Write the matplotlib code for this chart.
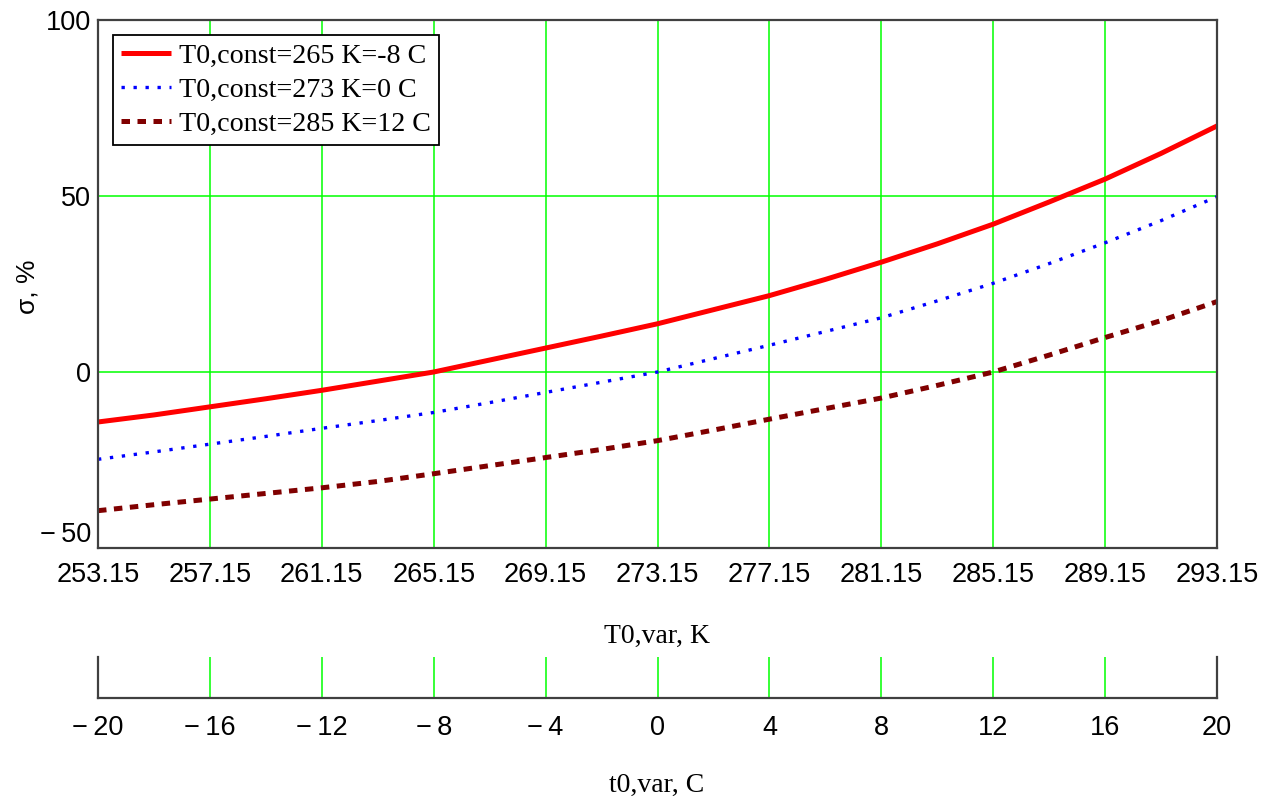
"""Relative deviation sigma vs. variable reference temperature, Mathcad style,
with a second (Celsius) scale underneath the main Kelvin axis."""

import matplotlib

matplotlib.use("Agg")
import matplotlib.pyplot as plt  # noqa: E402

# --- data (every 2 K) ---
T0_var = [253.15, 255.15, 257.15, 259.15, 261.15, 263.15, 265.15, 267.15,
          269.15, 271.15, 273.15, 275.15, 277.15, 279.15, 281.15, 283.15,
          285.15, 287.15, 289.15, 291.15, 293.15]

sigma_265 = [-14.2, -12.2, -9.9, -7.6, -5.2, -2.6, 0.0, 3.4, 6.8, 10.2, 13.7,
             17.7, 21.7, 26.3, 31.2, 36.4, 42.0, 48.3, 54.8, 62.1, 69.9]
sigma_273 = [-24.8, -22.7, -20.5, -18.3, -16.0, -13.8, -11.5, -8.7, -5.8,
             -2.9, 0.0, 3.8, 7.6, 11.5, 15.4, 20.2, 25.2, 30.8, 36.7, 43.0, 49.8]
sigma_285 = [-39.4, -37.7, -36.1, -34.5, -32.9, -31.1, -28.9, -26.6, -24.3,
             -22.0, -19.5, -16.5, -13.4, -10.4, -7.4, -3.8, 0.0, 4.8, 9.8,
             14.6, 20.0]

labels = ["T0,const=265 K=-8 C", "T0,const=273 K=0 C", "T0,const=285 K=12 C"]

K_ticks = [253.15, 257.15, 261.15, 265.15, 269.15, 273.15, 277.15, 281.15,
           285.15, 289.15, 293.15]
sigma_ticks = [-50, 0, 50, 100]
C_ticks = [-20, -16, -12, -8, -4, 0, 4, 8, 12, 16, 20]

SANS = ["Liberation Sans", "DejaVu Sans"]
SERIF = ["Liberation Serif", "DejaVu Serif"]
GREEN = "#00ff00"
SPINE = "#404040"
W, H = 1283, 801
TICK_FS = 19.5


def _num(v):
    s = f"{v:g}"
    return s.replace("-", "\u2212\u2009")


fig = plt.figure(figsize=(W / 100, H / 100), dpi=100)

# --- main axes ---
ax = fig.add_axes([98 / W, 1 - 548 / H, 1119 / W, 528 / H])
ax.plot(T0_var, sigma_265, color="#ff0000", lw=3.6, label=labels[0],
        solid_capstyle="butt", zorder=4)
ax.plot(T0_var, sigma_273, color="#0000ff", lw=2.4, ls=(0, (1, 2.6)),
        label=labels[1], zorder=4)
ax.plot(T0_var, sigma_285, color="#800000", lw=3.6, ls=(0, (1.7, 1.5)),
        label=labels[2], zorder=4)

ax.set_xlim(K_ticks[0], K_ticks[-1])
ax.set_ylim(sigma_ticks[0], sigma_ticks[-1])
ax.set_xticks(K_ticks)
ax.set_xticklabels([f"{v:.2f}" for v in K_ticks], family=SANS, fontsize=TICK_FS)
ax.set_yticks(sigma_ticks)
ax.set_yticklabels([_num(v) for v in sigma_ticks], family=SANS, fontsize=TICK_FS)
ax.tick_params(length=0, colors="black")
ax.tick_params(axis="x", pad=10)
ax.tick_params(axis="y", pad=5)
ax.grid(True, color=GREEN, lw=1.1)
ax.set_axisbelow(True)
for sp in ax.spines.values():
    sp.set_color(SPINE)
    sp.set_linewidth(1.6)
    sp.set_zorder(5)

# the bottom sigma label sits just above the first kelvin label, as in Mathcad
ax.get_yticklabels()[0].set_va("bottom")
ax.get_yticklabels()[0].set_y(-50)

leg = ax.legend(loc="upper left", bbox_to_anchor=(0.0134, 0.972),
                borderaxespad=0, prop={"family": SERIF, "size": 20.2},
                handlelength=1.75, handletextpad=0.3, borderpad=0.3,
                labelspacing=0.3, fancybox=False, framealpha=1)
leg.get_frame().set_edgecolor("black")
leg.get_frame().set_linewidth(1.3)

# --- secondary Celsius scale ---
ax2 = fig.add_axes([98 / W, 1 - 698 / H, 1119 / W, 41 / H])
ax2.set_xlim(C_ticks[0], C_ticks[-1])
ax2.set_ylim(0, 1)
ax2.set_xticks(C_ticks)
ax2.set_xticklabels([_num(v) for v in C_ticks], family=SANS, fontsize=TICK_FS)
ax2.set_yticks([])
ax2.tick_params(length=0, pad=12, colors="black")
ax2.grid(True, axis="x", color=GREEN, lw=1.1)
ax2.set_axisbelow(True)
ax2.spines["top"].set_visible(False)
for name in ("left", "right", "bottom"):
    ax2.spines[name].set_color(SPINE)
    ax2.spines[name].set_linewidth(1.6)

# --- axis titles ---
fig.text(657 / W, 1 - 636 / H, "T0,var, K", family=SERIF, fontsize=20,
         ha="center", va="center")
fig.text(657 / W, 1 - 785 / H, "t0,var, C", family=SERIF, fontsize=20,
         ha="center", va="center")
fig.text(27 / W, 1 - 287 / H, "\u03c3, %", family=SANS, fontsize=19,
         rotation=90, ha="center", va="center")

fig.savefig("out.png", dpi=100)
